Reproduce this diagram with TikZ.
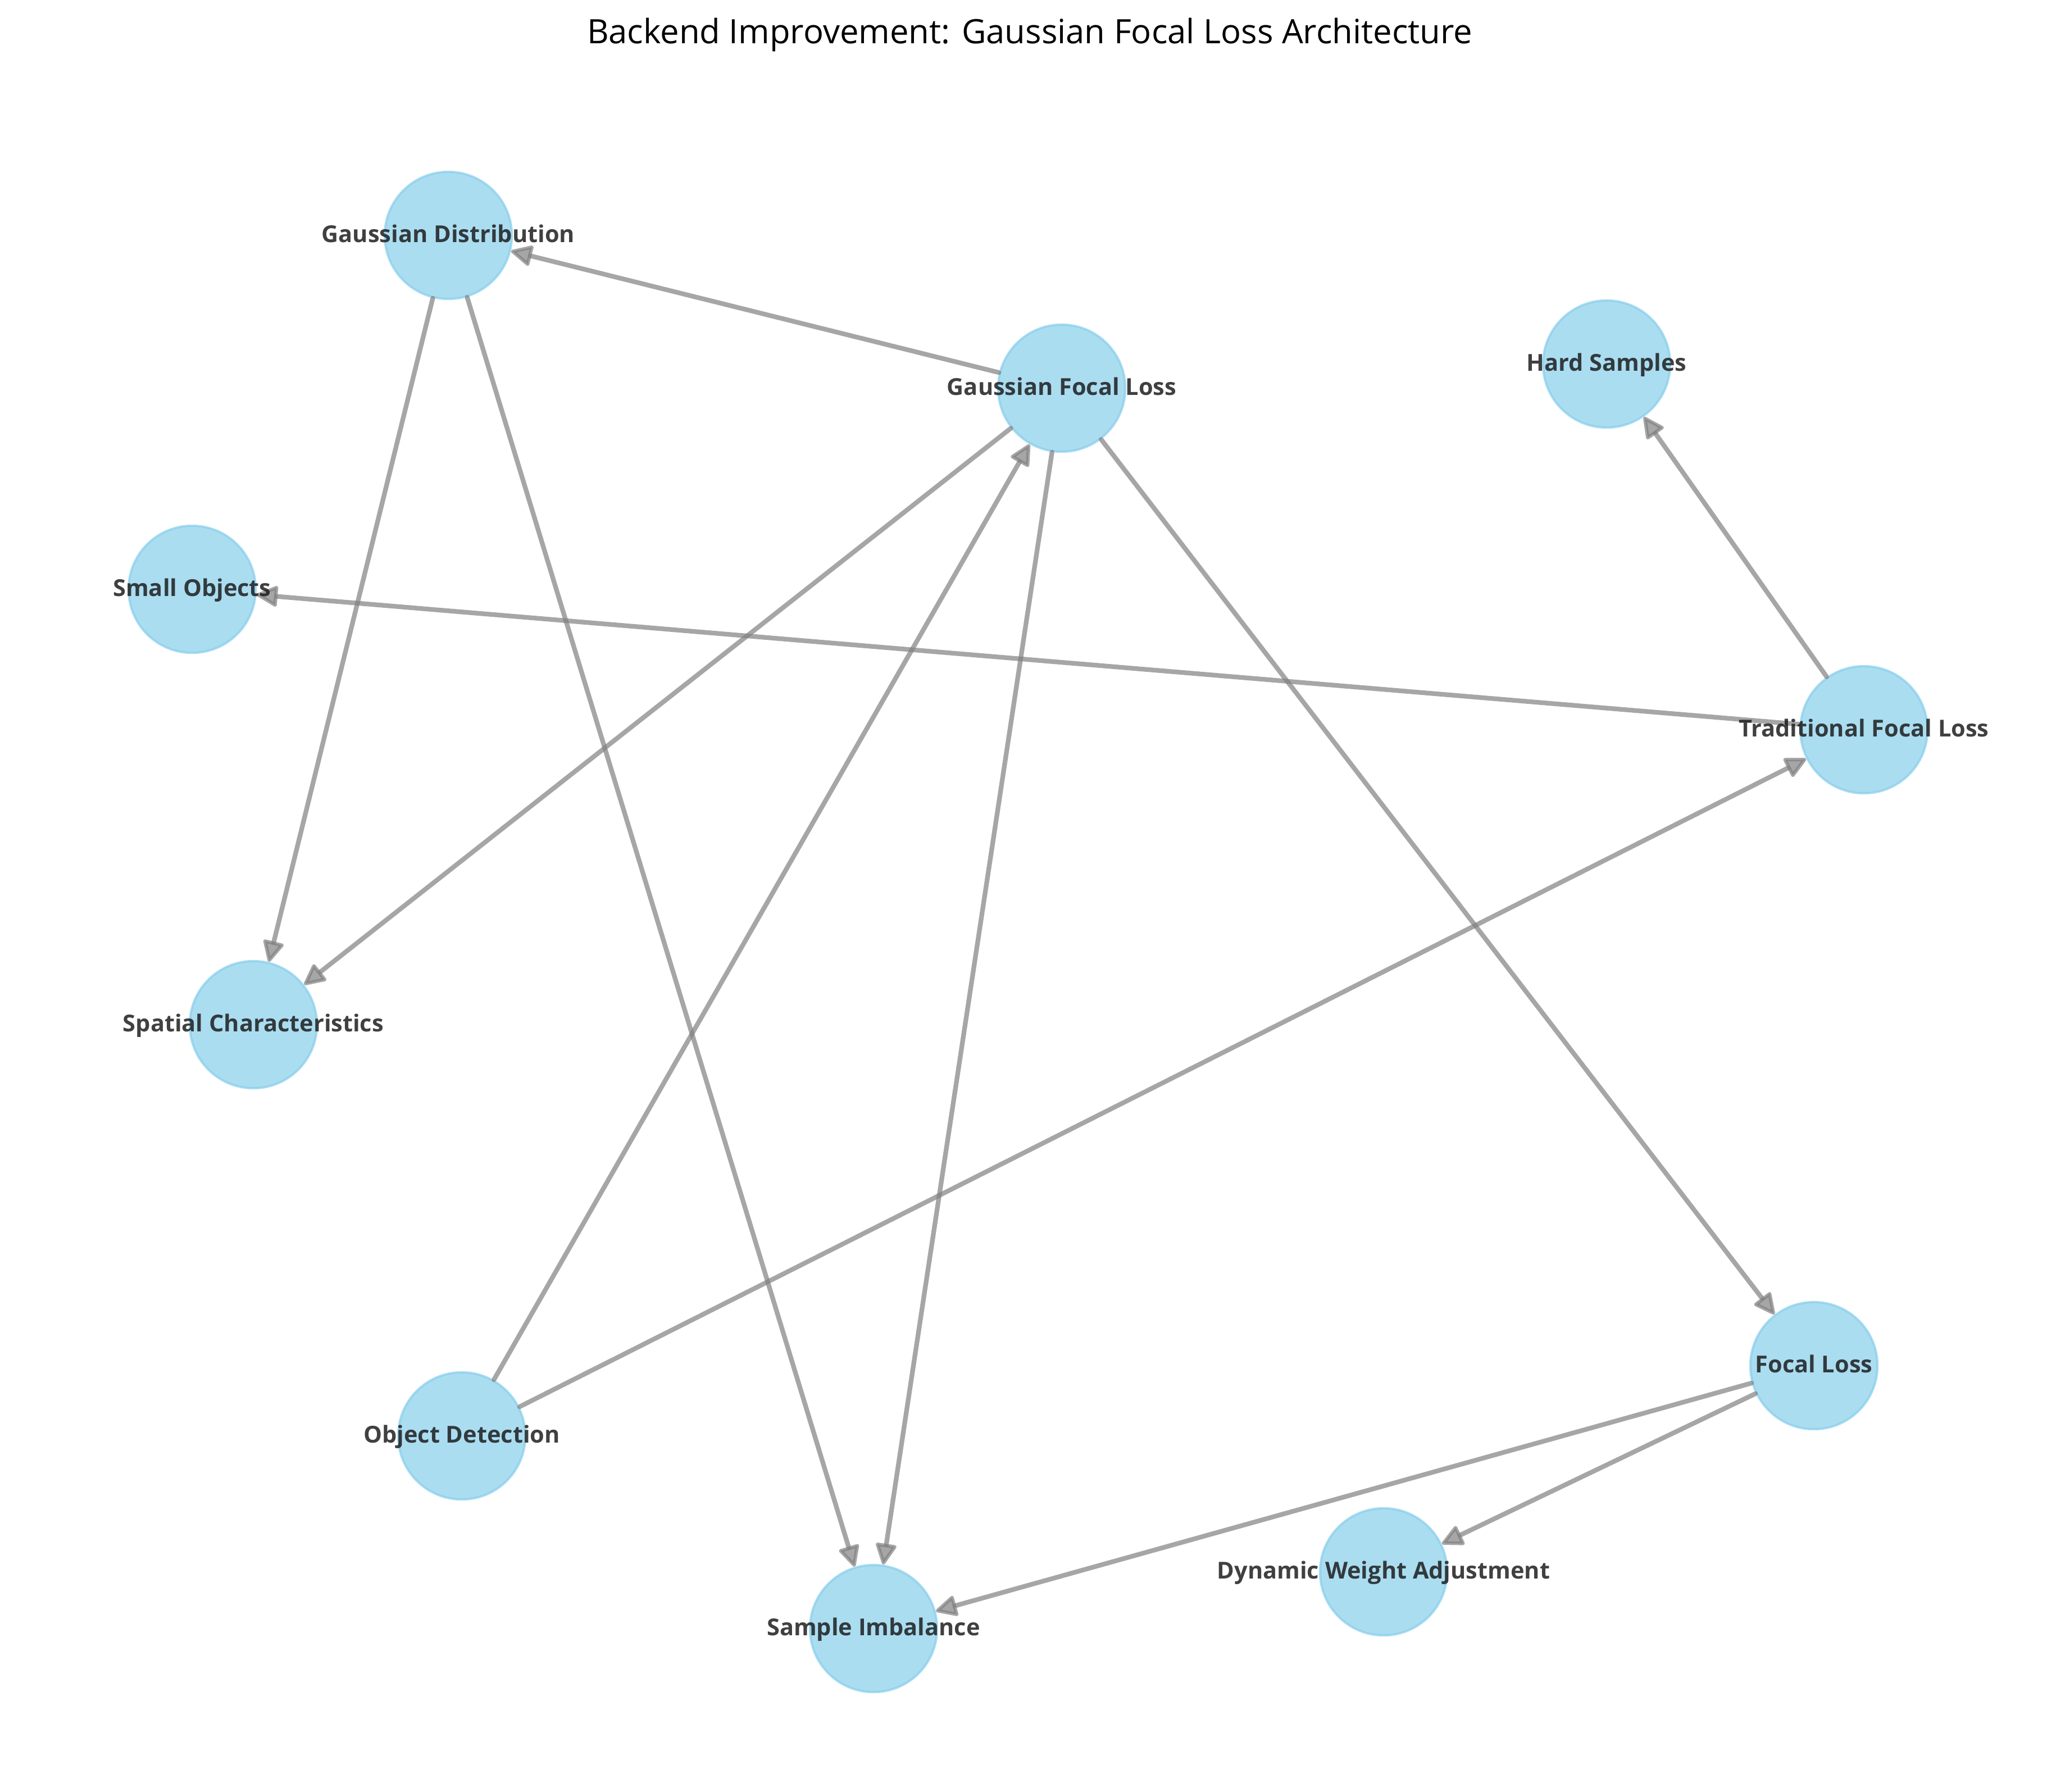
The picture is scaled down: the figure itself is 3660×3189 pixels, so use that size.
\documentclass[tikz,border=0pt]{standalone}
\usepackage{fontspec}
\setmainfont{Open Sans}
\usetikzlibrary{arrows.meta}
\definecolor{skyblue}{RGB}{135,206,235}
\definecolor{edgegray}{RGB}{128,128,128}
\definecolor{labelc}{RGB}{30,30,30}
\begin{document}
\begin{tikzpicture}[x=0.2409pt,y=-0.2409pt,
  nodec/.style={circle, minimum size=54.5pt, inner sep=0pt, fill=skyblue, draw=skyblue, line width=1pt, opacity=0.7},
  lab/.style={font=\bfseries\fontsize{10}{12}\selectfont, text=labelc, text opacity=0.85, inner sep=0pt, anchor=base},
  edge/.style={draw=edgegray, line width=2pt, opacity=0.7, line cap=round, -{Triangle[length=10pt,width=9.5pt,round,line width=1.5pt]}}]
\useasboundingbox (0,0) rectangle (3660,3189);
% title
\node[font=\fontsize{14.4}{17}\selectfont, anchor=base, inner sep=0pt] (title) at (1833,77) {Backend Improvement: Gaussian Focal Loss Architecture};
% nodes
\node[nodec] (gd)  at (798,419) {};
\node[nodec] (gfl) at (1890,691) {};
\node[nodec] (hs)  at (2860,648) {};
\node[nodec] (so)  at (342,1049) {};
\node[nodec] (tfl) at (3318,1299) {};
\node[nodec] (sc)  at (451,1824) {};
\node[nodec] (fl)  at (3229,2431) {};
\node[nodec] (od)  at (822,2556) {};
\node[nodec] (dwa) at (2463,2798) {};
\node[nodec] (si)  at (1555,2899) {};
% edges
\draw[edge] (gfl) -- (gd);
\draw[edge] (gfl) -- (sc);
\draw[edge] (gfl) -- (si);
\draw[edge] (gfl) -- (fl);
\draw[edge] (gd) -- (sc);
\draw[edge] (gd) -- (si);
\draw[edge] (tfl) -- (hs);
\draw[edge] (tfl) -- (so);
\draw[edge] (od) -- (gfl);
\draw[edge] (od) -- (tfl);
\draw[edge] (fl) -- (si);
\draw[edge] (fl) -- (dwa);
% labels
\node[lab] (gdl)  at ([yshift=-2.9pt]gd.center)  {Gaussian Distribution};
\node[lab] (gfll) at ([yshift=-2.9pt]gfl.center) {Gaussian Focal Loss};
\node[lab] (hsl)  at ([yshift=-2.9pt]hs.center)  {Hard Samples};
\node[lab] (sol)  at ([yshift=-2.9pt]so.center)  {Small Objects};
\node[lab] (tfll) at ([yshift=-2.9pt]tfl.center) {Traditional Focal Loss};
\node[lab] (scl)  at ([yshift=-2.9pt]sc.center)  {Spatial Characteristics};
\node[lab] (fll)  at ([yshift=-2.9pt]fl.center)  {Focal Loss};
\node[lab] (odl)  at ([yshift=-2.9pt]od.center)  {Object Detection};
\node[lab] (dwal) at ([yshift=-2.9pt]dwa.center) {Dynamic Weight Adjustment};
\node[lab] (sil)  at ([yshift=-2.9pt]si.center)  {Sample Imbalance};
\end{tikzpicture}
\end{document}
